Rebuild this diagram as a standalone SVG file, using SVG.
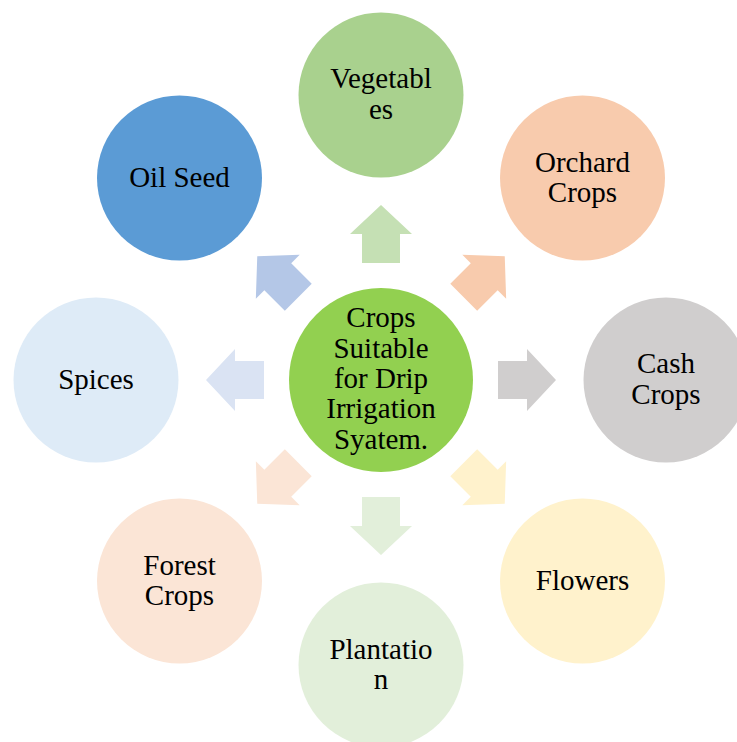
<svg xmlns="http://www.w3.org/2000/svg" width="737" height="742" viewBox="0 0 737 742">
<style>
text{font-family:"Liberation Serif","Times New Roman",serif;font-size:29px;fill:#000;text-anchor:middle}
</style>
<defs>
<path id="arr" d="M117,-19 L146,-19 L146,-31 L175,0 L146,31 L146,19 L117,19 Z"/>
</defs>
<rect width="737" height="742" fill="#fff"/>
<g id="connectors">
<use href="#arr" fill="#C5E0B4" transform="translate(381,380) rotate(-90)"/>
<use href="#arr" fill="#F8CBAD" transform="translate(381,380) rotate(-45)"/>
<use href="#arr" fill="#D0CECE" transform="translate(381,380) rotate(0)"/>
<use href="#arr" fill="#FFF2CC" transform="translate(381,380) rotate(45)"/>
<use href="#arr" fill="#E2EFDA" transform="translate(381,380) rotate(90)"/>
<use href="#arr" fill="#FBE5D6" transform="translate(381,380) rotate(135)"/>
<use href="#arr" fill="#DAE3F3" transform="translate(381,380) rotate(180)"/>
<use href="#arr" fill="#B4C7E7" transform="translate(381,380) rotate(-135)"/>
</g>
<g id="center">
<circle cx="381" cy="380" r="92" fill="#92D050"/>
<text x="381" y="327">Crops</text>
<text x="381" y="357.5">Suitable</text>
<text x="381" y="388">for Drip</text>
<text x="381" y="418">Irrigation</text>
<text x="381" y="448.5">Syatem.</text>
</g>
<g id="vegetables">
<circle cx="381" cy="95" r="82.5" fill="#A9D18E"/>
<text x="381" y="87.5">Vegetabl</text>
<text x="381" y="118.5">es</text>
</g>
<g id="orchard">
<circle cx="582.5" cy="178" r="82.5" fill="#F8CBAD"/>
<text x="582.5" y="171.5">Orchard</text>
<text x="582.5" y="202">Crops</text>
</g>
<g id="cash">
<circle cx="666" cy="380" r="82.5" fill="#D0CECE"/>
<text x="666" y="373">Cash</text>
<text x="666" y="404">Crops</text>
</g>
<g id="flowers">
<circle cx="582.5" cy="581" r="82.5" fill="#FFF2CC"/>
<text x="582.5" y="590">Flowers</text>
</g>
<g id="plantation">
<circle cx="381" cy="665" r="82.5" fill="#E2EFDA"/>
<text x="381" y="659">Plantatio</text>
<text x="381" y="689">n</text>
</g>
<g id="forest">
<circle cx="179.5" cy="581" r="82.5" fill="#FBE5D6"/>
<text x="179.5" y="575">Forest</text>
<text x="179.5" y="604.5">Crops</text>
</g>
<g id="spices">
<circle cx="96" cy="380" r="82.5" fill="#DEEBF7"/>
<text x="96" y="388.5">Spices</text>
</g>
<g id="oilseed">
<circle cx="179.5" cy="178" r="82.5" fill="#5B9BD5"/>
<text x="179.5" y="187">Oil Seed</text>
</g>
</svg>
